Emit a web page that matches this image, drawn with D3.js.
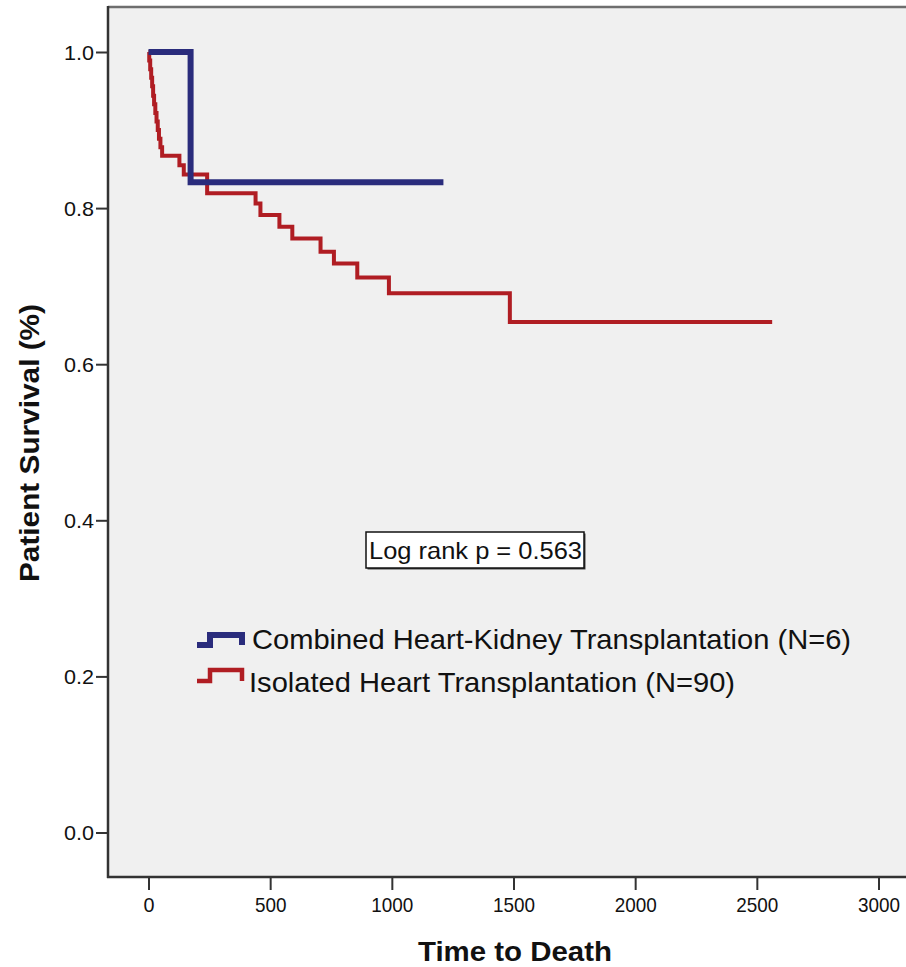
<!DOCTYPE html>
<html>
<head>
<meta charset="utf-8">
<script src="https://cdn.jsdelivr.net/npm/d3@7/dist/d3.min.js"></script>
<style>
  html, body { margin: 0; padding: 0; background: #ffffff; }
  svg { display: block; }
  text { font-family: "Liberation Sans", Arial, sans-serif; fill: #111; }
</style>
</head>
<body>
<svg id="chart" width="906" height="967"></svg>
<script>
// Kaplan-Meier survival estimates: [time in days, survival after event]
const combinedTimes  = [0, 173, 1212];
const combinedValues = [1.0, 0.833, 0.833];

const isolatedTimes  = [0, 3, 7, 11, 15, 19, 23, 28, 33, 38, 43, 49, 56,
                        127, 145, 241, 440, 460, 538, 591, 707, 762, 858, 988, 1485, 2563];
const isolatedValues = [1.0, 0.989, 0.978, 0.967, 0.956, 0.944, 0.933, 0.922, 0.911, 0.900, 0.889, 0.878, 0.867,
                        0.855, 0.843, 0.819, 0.806, 0.791, 0.776, 0.761, 0.744, 0.729, 0.711, 0.691, 0.654, 0.654];

const seriesNames  = ["Combined Heart-Kidney Transplantation (N=6)", "Isolated Heart Transplantation (N=90)"];
const seriesColors = ["#2a2c7c", "#b01d23"];

const xTicks = [0, 500, 1000, 1500, 2000, 2500, 3000];
const yTicks = [0.0, 0.2, 0.4, 0.6, 0.8, 1.0];

const xTitle = "Time to Death";
const yTitle = "Patient Survival (%)";
const annotation = "Log rank p = 0.563";

const svg = d3.select("#chart");

// plot frame
const frame = { left: 108, top: 7, right: 912, bottom: 877 };

const x = d3.scaleLinear().domain([0, 3000]).range([148.5, 878.5]);
const y = d3.scaleLinear().domain([0, 1]).range([832.5, 52]);

svg.append("rect")
  .attr("x", frame.left).attr("y", frame.top)
  .attr("width", frame.right - frame.left).attr("height", frame.bottom - frame.top)
  .attr("fill", "#f0f0f0");

// top border of the frame
svg.append("line")
  .attr("x1", frame.left).attr("x2", frame.right)
  .attr("y1", frame.top).attr("y2", frame.top)
  .attr("stroke", "#6e6e6e").attr("stroke-width", 2.5);

// y axis
const yAxis = d3.axisLeft(y).tickValues(yTicks).tickFormat(d3.format(".1f"))
  .tickSize(12).tickPadding(2);
const gy = svg.append("g").attr("transform", `translate(${frame.left},0)`).call(yAxis);
gy.select(".domain").remove();
gy.selectAll(".tick line").attr("stroke", "#333").attr("stroke-width", 2);
gy.selectAll(".tick text").attr("font-size", 21).attr("fill", "#222")
  .attr("font-family", "Liberation Sans, Arial, sans-serif").attr("dy", "0.35em")
  .attr("textLength", 30).attr("lengthAdjust", "spacingAndGlyphs");
svg.append("line")
  .attr("x1", frame.left).attr("x2", frame.left)
  .attr("y1", frame.top - 1).attr("y2", frame.bottom + 1)
  .attr("stroke", "#333").attr("stroke-width", 2.5);

// x axis
const xAxis = d3.axisBottom(x).tickValues(xTicks).tickFormat(d3.format("d"))
  .tickSize(13).tickPadding(7);
const gx = svg.append("g").attr("transform", `translate(0,${frame.bottom})`).call(xAxis);
gx.select(".domain").remove();
gx.selectAll(".tick line").attr("stroke", "#333").attr("stroke-width", 2);
gx.selectAll(".tick text").attr("font-size", 21).attr("fill", "#222")
  .attr("font-family", "Liberation Sans, Arial, sans-serif")
  .attr("textLength", d => d === 0 ? 11 : 10.5 * String(d).length)
  .attr("lengthAdjust", "spacingAndGlyphs");
svg.append("line")
  .attr("x1", frame.left - 1).attr("x2", frame.right)
  .attr("y1", frame.bottom).attr("y2", frame.bottom)
  .attr("stroke", "#333").attr("stroke-width", 2.5);

// survival step curves
const stepLine = d3.line()
  .x(d => x(d[0]))
  .y(d => y(d[1]))
  .curve(d3.curveStepAfter);

const isolated = d3.zip(isolatedTimes, isolatedValues);
const combined = d3.zip(combinedTimes, combinedValues);

svg.append("path").datum(isolated)
  .attr("d", stepLine)
  .attr("fill", "none").attr("stroke", seriesColors[1])
  .attr("stroke-width", 4).attr("stroke-linejoin", "miter");

svg.append("path").datum(combined)
  .attr("d", stepLine)
  .attr("fill", "none").attr("stroke", seriesColors[0])
  .attr("stroke-width", 6).attr("stroke-linejoin", "miter");

// log-rank annotation box
const box = { x: 366, y: 532, w: 218, h: 36 };
svg.append("rect")
  .attr("x", box.x + 1.5).attr("y", box.y + 1.5).attr("width", box.w).attr("height", box.h)
  .attr("fill", "#444");
svg.append("rect")
  .attr("x", box.x).attr("y", box.y).attr("width", box.w).attr("height", box.h)
  .attr("fill", "#ffffff").attr("stroke", "#111").attr("stroke-width", 1.5);
svg.append("text")
  .attr("x", box.x + 3).attr("y", box.y + 27)
  .attr("font-size", 24)
  .attr("textLength", 213).attr("lengthAdjust", "spacingAndGlyphs")
  .text(annotation);

// legend
const legendRows = [
  { y: 645, dy: 10, textY: 649, width: 599 },
  { y: 681, dy: 11, textY: 692, width: 486 }
];
const legend = svg.append("g");
legendRows.forEach((r, i) => {
  const sym = [[197, r.y], [210, r.y], [210, r.y - r.dy], [242, r.y - r.dy], [242, r.y]];
  legend.append("path")
    .attr("d", d3.line()(sym))
    .attr("fill", "none")
    .attr("stroke", seriesColors[i])
    .attr("stroke-width", i === 0 ? 6 : 4.5);
  legend.append("text")
    .attr("x", i === 0 ? 252 : 249).attr("y", r.textY)
    .attr("font-size", 28)
    .attr("textLength", r.width).attr("lengthAdjust", "spacingAndGlyphs")
    .attr("fill", "#222")
    .text(seriesNames[i]);
});

// axis titles
svg.append("text")
  .attr("x", 515).attr("y", 961)
  .attr("text-anchor", "middle")
  .attr("font-size", 28).attr("font-weight", "bold")
  .attr("textLength", 194).attr("lengthAdjust", "spacingAndGlyphs")
  .text(xTitle);

svg.append("text")
  .attr("transform", "translate(39,443) rotate(-90)")
  .attr("text-anchor", "middle")
  .attr("font-size", 27).attr("font-weight", "bold")
  .attr("textLength", 278).attr("lengthAdjust", "spacingAndGlyphs")
  .text(yTitle);
</script>
</body>
</html>
